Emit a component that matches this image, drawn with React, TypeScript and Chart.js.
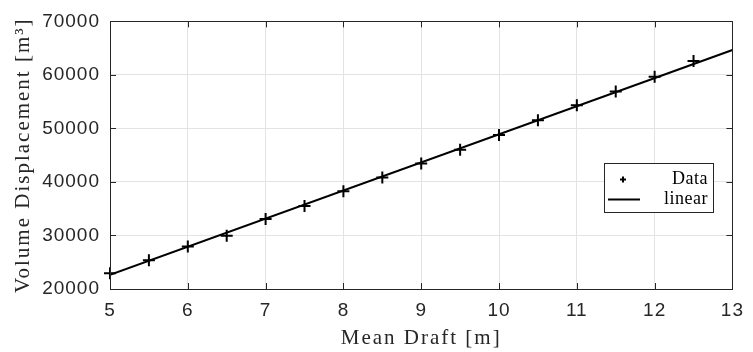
import React, { useEffect, useRef } from "react";
import { Chart, registerables } from "chart.js";

Chart.register(...registerables);

const draftData = [5, 5.5, 6, 6.5, 7, 7.5, 8, 8.5, 9, 9.5, 10, 10.5, 11, 11.5, 12, 12.5];
const volumeData = [22950, 25350, 27930, 29960, 33100, 35500, 38270, 40850, 43430, 46020, 48780, 51550, 54320, 56900, 59670, 62620];
const fitDraft = [5, 13];
const fitVolume = [22640, 64650];
const legendLabels = ["Data", "linear"];
const xTitle = "Mean Draft [m]";
const yTitle = "Volume Displacement [m³]";

const AXIS = "#262626";
const GRID = "#e3e3e3";

const spacingPlugin = {
  id: "spacing",
  afterUpdate(chart: any) {
    for (const s of Object.values(chart.scales) as any[]) {
      if (s.__wrapped) continue;
      s.__wrapped = true;
      const dl = s.drawLabels;
      s.drawLabels = function (area: any) {
        const ctx = this.ctx;
        ctx.save();
        try { ctx.letterSpacing = "1px"; } catch (e) {}
        dl.call(this, area);
        ctx.restore();
      };
      const dt = s.drawTitle;
      s.drawTitle = function () {
        const ctx = this.ctx;
        ctx.save();
        try { ctx.letterSpacing = "2px"; } catch (e) {}
        dt.call(this);
        ctx.restore();
      };
    }
  },
};

const boxPlugin = {
  id: "boxTicks",
  afterDraw(chart: any) {
    const { ctx, chartArea } = chart;
    const { left, right, top, bottom } = chartArea;
    const xs = chart.scales.x;
    const ys = chart.scales.y;
    const tl = 6;
    ctx.save();
    ctx.strokeStyle = AXIS;
    ctx.lineWidth = 1;
    ctx.beginPath();
    for (const t of xs.ticks) {
      const px = Math.round(xs.getPixelForValue(t.value)) + 0.5;
      ctx.moveTo(px, bottom);
      ctx.lineTo(px, bottom - tl);
      ctx.moveTo(px, top);
      ctx.lineTo(px, top + tl);
    }
    for (const t of ys.ticks) {
      const py = Math.round(ys.getPixelForValue(t.value)) + 0.5;
      ctx.moveTo(left, py);
      ctx.lineTo(left + tl, py);
      ctx.moveTo(right, py);
      ctx.lineTo(right - tl, py);
    }
    ctx.stroke();
    ctx.strokeRect(Math.round(left) + 0.5, Math.round(top) + 0.5, Math.round(right - left), Math.round(bottom - top));

    // legend
    const bx = 604, by = 163, bw = 109, bh = 49;
    ctx.fillStyle = "#ffffff";
    ctx.fillRect(bx, by, bw, bh);
    ctx.strokeStyle = AXIS;
    ctx.strokeRect(bx + 0.5, by + 0.5, bw, bh);
    // marker
    ctx.strokeStyle = "#000000";
    ctx.lineWidth = 2;
    ctx.beginPath();
    ctx.moveTo(620, 179.5);
    ctx.lineTo(626, 179.5);
    ctx.moveTo(623, 176.5);
    ctx.lineTo(623, 182.5);
    ctx.stroke();
    // line
    ctx.beginPath();
    ctx.moveTo(608, 199.5);
    ctx.lineTo(640, 199.5);
    ctx.stroke();
    ctx.fillStyle = "#000000";
    ctx.font = "18px 'Liberation Serif', serif";
    ctx.textAlign = "right";
    ctx.textBaseline = "alphabetic";
    try { ctx.letterSpacing = "0.5px"; } catch (e) {}
    ctx.fillText(legendLabels[0], 708, 184);
    ctx.fillText(legendLabels[1], 708, 204);
    ctx.restore();
  },
};

export default function App() {
  const ref = useRef<HTMLCanvasElement | null>(null);
  useEffect(() => {
    if (!ref.current) return;
    const chart = new Chart(ref.current, {
      type: "scatter",
      data: {
        datasets: [
          {
            label: legendLabels[1],
            type: "line",
            data: fitDraft.map((x, i) => ({ x, y: fitVolume[i] })),
            borderColor: "#000000",
            borderWidth: 2,
            pointRadius: 0,
            fill: false,
            order: 2,
          } as any,
          {
            label: legendLabels[0],
            data: draftData.map((x, i) => ({ x, y: volumeData[i] })),
            pointStyle: "cross",
            pointRadius: 6,
            borderWidth: 2,
            borderColor: "#000000",
            backgroundColor: "#000000",
            clip: false,
            order: 1,
          } as any,
        ],
      },
      options: {
        responsive: false,
        animation: false,
        layout: { padding: { top: 18, right: 16, left: 0, bottom: 0 } },
        plugins: { legend: { display: false }, tooltip: { enabled: false } },
        scales: {
          x: {
            type: "linear",
            min: 5,
            max: 13,
            afterFit: (s: any) => { s.height = 63; },
            ticks: {
              stepSize: 1,
              color: AXIS,
              padding: 10,
              maxRotation: 0,
              font: { family: "'Liberation Sans', Arial, sans-serif", size: 19 },
            },
            grid: { color: GRID, lineWidth: 1, drawTicks: false },
            border: { display: false },
            title: {
              display: true,
              text: xTitle,
              color: AXIS,
              padding: { top: 0, bottom: 1 },
              font: { family: "'Liberation Serif', serif", size: 21 },
            },
          },
          y: {
            type: "linear",
            min: 20000,
            max: 70000,
            afterFit: (s: any) => { s.width = 110; },
            ticks: {
              stepSize: 10000,
              color: AXIS,
              padding: 10,
              callback: (v: any) => String(v),
              font: { family: "'Liberation Sans', Arial, sans-serif", size: 19 },
            },
            grid: { color: GRID, lineWidth: 1, drawTicks: false },
            border: { display: false },
            title: {
              display: true,
              text: yTitle,
              color: AXIS,
              padding: { top: 11, bottom: 0 },
              font: { family: "'Liberation Serif', serif", size: 21 },
            },
          },
        },
      },
      plugins: [spacingPlugin, boxPlugin],
    } as any);
    return () => chart.destroy();
  }, []);
  return (
    <div style={{ position: "absolute", left: 0, top: 0, width: 753, height: 352, background: "#fff" }}>
      <canvas ref={ref} width={753} height={352} />
    </div>
  );
}
